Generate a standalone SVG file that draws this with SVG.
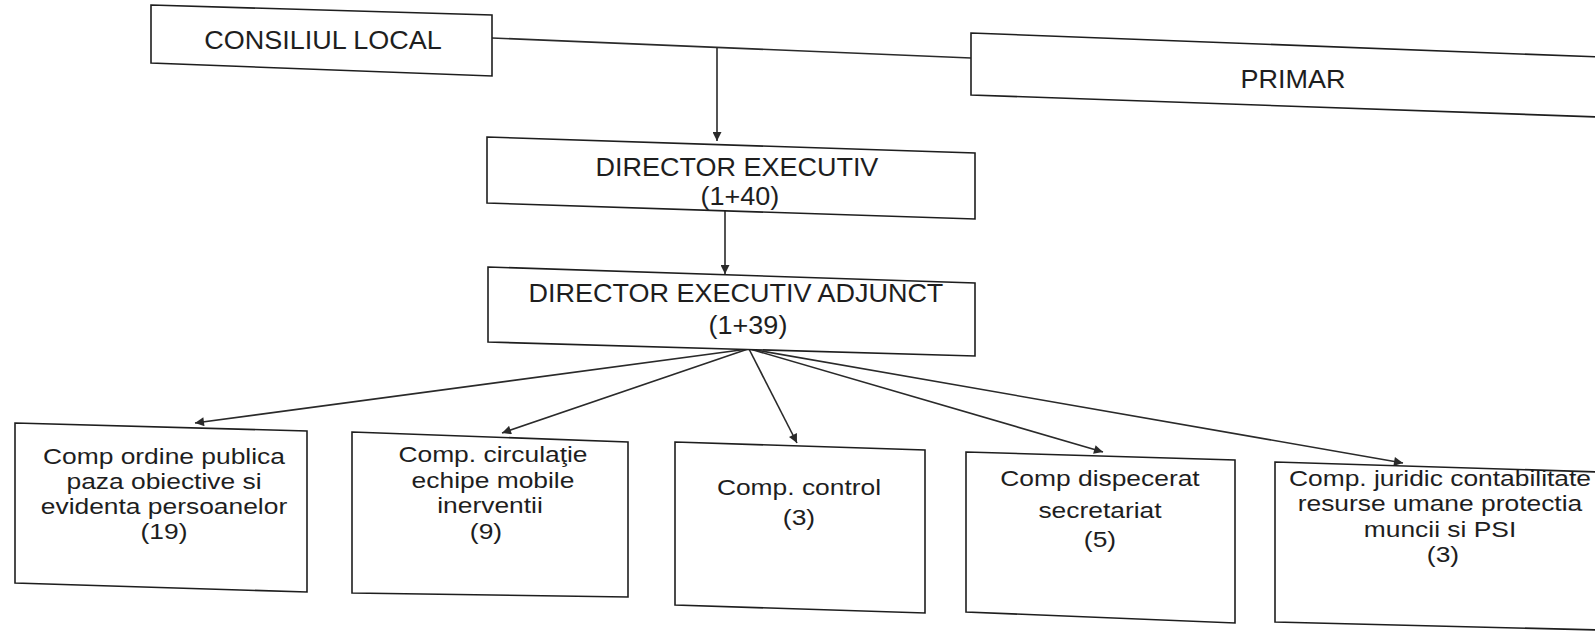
<svg xmlns="http://www.w3.org/2000/svg" width="1595" height="635" viewBox="0 0 1595 635">
<style>
.box{fill:#fff;stroke:#1e1e1e;stroke-width:1.6}
.t{font-family:"Liberation Sans",Arial,sans-serif;font-size:25px;fill:#1e1e1e;text-anchor:middle;transform-box:fill-box;transform-origin:center;transform:scaleX(1.08)}
.b{font-size:22px;transform:scaleX(1.2)}
.c{stroke:#2a2a2a;stroke-width:1.6;fill:none}
</style>
<defs>
<marker id="ah" viewBox="0 0 10 10" refX="10" refY="5" markerWidth="11" markerHeight="9" markerUnits="userSpaceOnUse" orient="auto">
<path d="M0,0 L10,5 L0,10 z" fill="#2a2a2a"/>
</marker>
</defs>
<rect width="1595" height="635" fill="#fff"/>
<g id="connectors">
<line class="c" x1="492" y1="38" x2="971" y2="58"/>
<line class="c" x1="717" y1="48" x2="717" y2="141" marker-end="url(#ah)"/>
<line class="c" x1="725" y1="211" x2="725" y2="274" marker-end="url(#ah)"/>
<line class="c" x1="748" y1="349" x2="195" y2="423" marker-end="url(#ah)"/>
<line class="c" x1="748" y1="349" x2="502" y2="433" marker-end="url(#ah)"/>
<line class="c" x1="749" y1="349" x2="797" y2="443" marker-end="url(#ah)"/>
<line class="c" x1="750" y1="349" x2="1103" y2="452" marker-end="url(#ah)"/>
<line class="c" x1="750" y1="349" x2="1403" y2="463" marker-end="url(#ah)"/>
</g>
<g id="consiliul-local">
<polygon class="box" points="151,5 492,15 492,76 151,63"/>
<text class="t" x="323" y="49">CONSILIUL LOCAL</text>
</g>
<g id="primar">
<polygon class="box" points="971,33 1600,57 1600,117 971,95"/>
<text class="t" x="1293" y="88">PRIMAR</text>
</g>
<g id="director-executiv">
<polygon class="box" points="487,137 975,153 975,219 487,203"/>
<text class="t" x="737" y="176">DIRECTOR EXECUTIV</text>
<text class="t" x="740" y="205">(1+40)</text>
</g>
<g id="director-executiv-adjunct">
<polygon class="box" points="488,267 975,283 975,356 488,342"/>
<text class="t" x="736" y="302">DIRECTOR EXECUTIV ADJUNCT</text>
<text class="t" x="748" y="334">(1+39)</text>
</g>
<g id="comp-ordine-publica">
<polygon class="box" points="15,423 307,431 307,592 15,583"/>
<text class="t b" x="164" y="464">Comp ordine publica</text>
<text class="t b" x="164" y="489">paza obiective si</text>
<text class="t b" x="164" y="514">evidenta persoanelor</text>
<text class="t b" x="164" y="539">(19)</text>
</g>
<g id="comp-circulatie">
<polygon class="box" points="352,432 628,442 628,597 352,593"/>
<text class="t b" x="493" y="462">Comp. circulaţie</text>
<text class="t b" x="493" y="488">echipe mobile</text>
<text class="t b" x="490" y="513">inerventii</text>
<text class="t b" x="486" y="539">(9)</text>
</g>
<g id="comp-control">
<polygon class="box" points="675,442 925,450 925,613 675,605"/>
<text class="t b" x="799" y="495">Comp. control</text>
<text class="t b" x="799" y="525">(3)</text>
</g>
<g id="comp-dispecerat">
<polygon class="box" points="966,452 1235,460 1235,623 966,612"/>
<text class="t b" x="1100" y="486">Comp dispecerat</text>
<text class="t b" x="1100" y="518">secretariat</text>
<text class="t b" x="1100" y="547">(5)</text>
</g>
<g id="comp-juridic">
<polygon class="box" points="1275,462 1600,472 1600,630 1275,622"/>
<text class="t b" x="1440" y="486">Comp. juridic contabilitate</text>
<text class="t b" x="1440" y="511">resurse umane protectia</text>
<text class="t b" x="1440" y="537">muncii si PSI</text>
<text class="t b" x="1443" y="562">(3)</text>
</g>
</svg>
